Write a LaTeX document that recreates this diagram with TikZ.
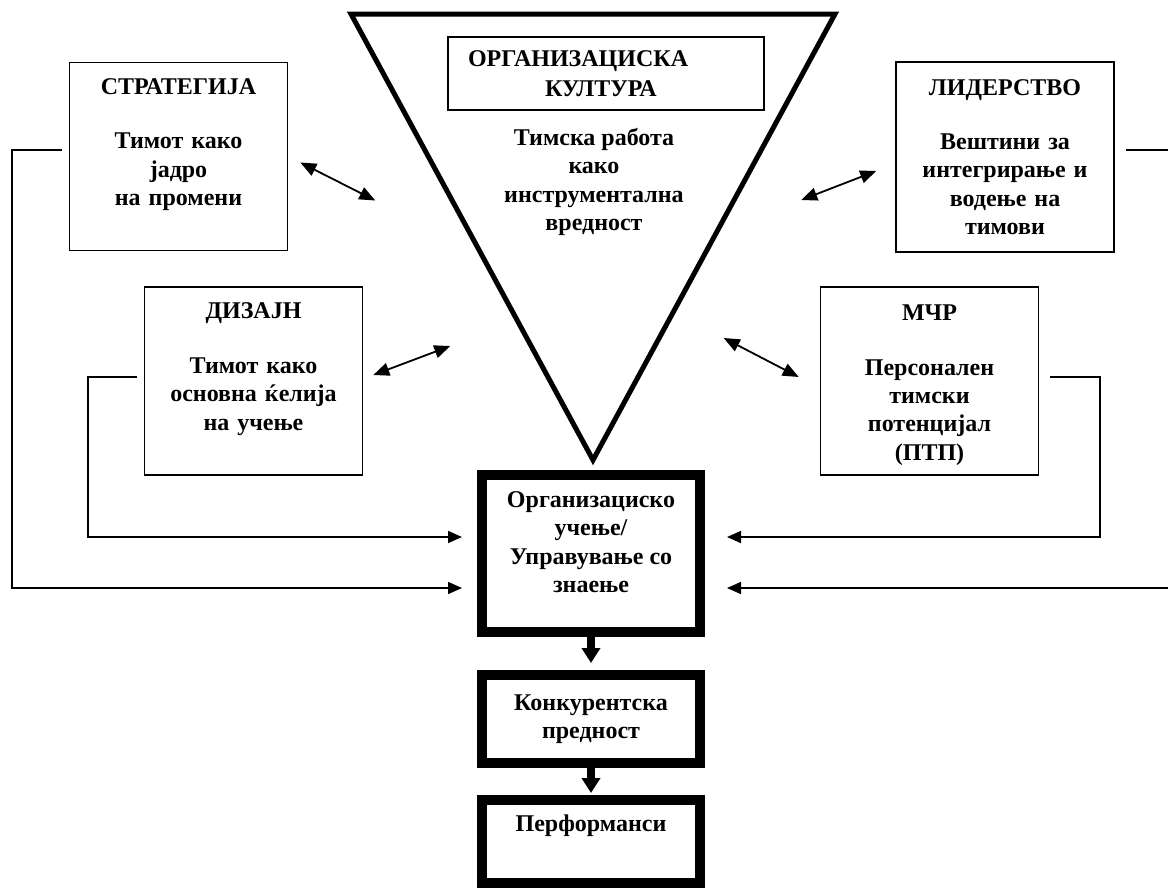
\documentclass[tikz,border=0pt]{standalone}
\usepackage{fontspec}
\setmainfont{Liberation Serif}
\usetikzlibrary{arrows.meta}

\tikzset{
  txt/.style={align=center, font=\bfseries\fontsize{12}{14.2}\selectfont},
  box/.style={txt, draw, line width=0.8pt, text width=100pt, minimum width=109pt, minimum height=94pt},
  heavybox/.style={txt, draw, line width=5pt, minimum width=109pt},
  link/.style={line width=0.8pt, -{Triangle[length=7pt,width=6pt]}},
  dbl/.style={line width=0.9pt, {Triangle[length=8pt,width=6.5pt]}-{Triangle[length=8pt,width=6.5pt]}},
  down/.style={line width=4pt, -{Triangle[length=7.5pt,width=9pt]}}
}

\begin{document}
\begin{tikzpicture}[x=0.5pt,y=-0.5pt]
\useasboundingbox (0,0) rectangle (1168,891);
% inverted triangle
\draw[line width=2.5pt, line join=miter] (351,14) -- (835,14) -- (593,460) -- cycle;
\node[txt, draw, line width=0.8pt, align=left, text width=138pt, inner xsep=10pt, minimum height=36.5pt] (kultura) at (606,73.5)
  {ОРГАНИЗАЦИСКА\\[1pt]\hspace*{38.5pt}КУЛТУРА};
\node[txt] (timska) at (594,182) {Тимска работа\\како\\инструментална\\вредност};
% side boxes
\node[box] (strat) at (178.5,156.5) {СТРАТЕГИЈА\\[13pt]Тимот како\\јадро\\на промени\\[-4pt]\strut};
\node[box, minimum height=95pt] (lider) at (1005,157) {ЛИДЕРСТВО\\[13pt]Вештини за\\интегрирање и\\водење на\\тимови};
\node[box] (dizajn) at (253.5,381) {ДИЗАЈН\\[13pt]Тимот како\\основна ќелија\\на учење\\[-4pt]\strut};
\node[box, inner ysep=2pt] (mcr) at (929.5,381) {\rule{0pt}{12pt}МЧР\\[13pt]Персонален\\тимски\\потенцијал\\(ПТП)};
% central column
\node[heavybox, minimum height=78.5pt] (ucenje) at (591,553.5) {Организациско\\учење/\\Управување со\\знаење\\[-7pt]\strut};
\node[heavybox, minimum height=44pt] (prednost) at (591,719) {Конкурентска\\предност};
\node[heavybox, minimum height=41.5pt] (perf) at (591,841.5) {Перформанси\\\strut};
\draw[down, shorten >=3.5pt] (ucenje) -- (prednost);
\draw[down, shorten >=1pt] (prednost) -- (perf);
% double arrows
\draw[dbl] (strat.east) ++(12,6) -- ++(75,38);
\draw[dbl] (lider.west) ++(-19,14) -- ++(-75,29);
\draw[dbl] (dizajn.east) ++(10,-6) -- ++(77,-29);
\draw[dbl] (mcr.west) ++(-21,-4) -- ++(-75,-39);
% feedback lines
\draw[link, shorten >=7.5pt] (strat.west) ++(-7,-6.5) -| (12,588) -- (12,588 -| ucenje.west);
\draw[link, shorten >=7.5pt] (dizajn.west) ++(-7,-4) -| (88,537) -- (88,537 -| ucenje.west);
\draw[link, shorten >=11pt] (mcr.east) ++(11,-4) -| (1100,537) -- (1100,537 -| ucenje.east);
\draw[link, shorten >=11pt] (lider.east) ++(11,-7) -| (1175,588) -- (1175,588 -| ucenje.east);
\end{tikzpicture}
\end{document}
